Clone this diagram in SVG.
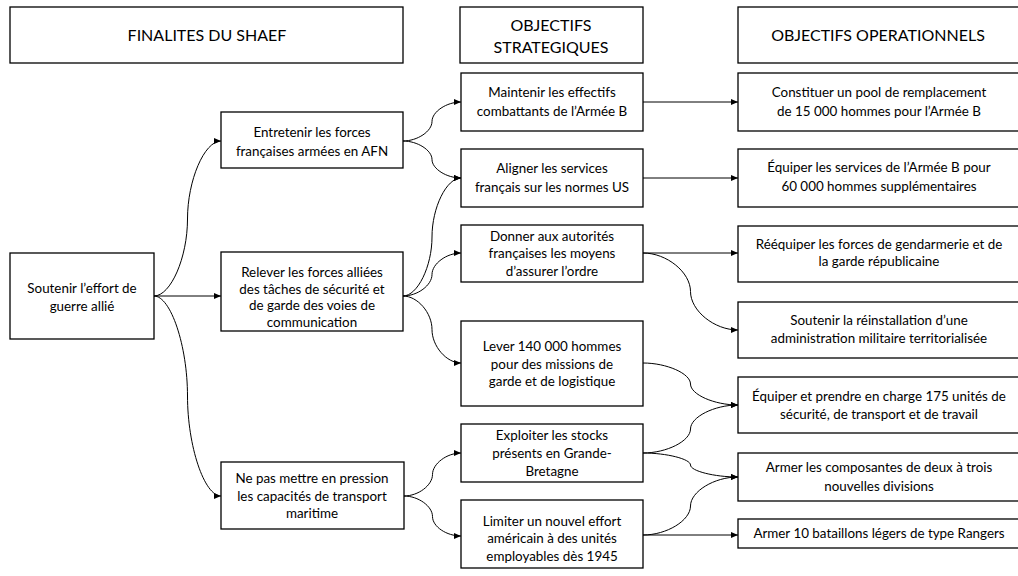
<svg xmlns="http://www.w3.org/2000/svg" width="1018" height="576" viewBox="0 0 1018 576">
<style>
.box{fill:#fff;stroke:#000;stroke-width:1.3}
.t{font-family:Lato,"Open Sans","Liberation Sans",sans-serif;font-size:13.4px;fill:#000;text-anchor:middle}
.h{font-family:Lato,"Open Sans","Liberation Sans",sans-serif;font-size:16px;fill:#000;text-anchor:middle}
.c{fill:none;stroke:#000;stroke-width:1}
</style>
<defs>
<marker id="arr" markerUnits="userSpaceOnUse" markerWidth="8" markerHeight="7" refX="7" refY="3.5" orient="auto">
<path d="M0,0.5 L7,3.5 L0,6.5 z" fill="#000"/>
</marker>
</defs>
<rect width="1018" height="576" fill="#fff"/>
<g id="connectors">
<path class="c" marker-end="url(#arr)" d="M154,296 L221,296"/>
<path class="c" marker-end="url(#arr)" d="M154,296 C170.75,296 187.5,257.5 187.5,219 C187.5,180.5 204.25,141 221,141"/>
<path class="c" marker-end="url(#arr)" d="M154,296 C170.75,296 187.5,346 187.5,396 C187.5,446 204.25,496 221,496"/>
<path class="c" marker-end="url(#arr)" d="M403,141 C417.5,141 432,131.25 432,121.5 C432,111.75 446.5,102 461,102"/>
<path class="c" marker-end="url(#arr)" d="M403,141 C417.5,141 432,150.25 432,159.5 C432,168.75 446.5,178 461,178"/>
<path class="c" marker-end="url(#arr)" d="M403,296 C417.5,296 432,266.5 432,237 C432,207.5 446.5,178 461,178"/>
<path class="c" marker-end="url(#arr)" d="M403,296 C417.5,296 432,285.25 432,274.5 C432,263.75 446.5,253 461,253"/>
<path class="c" marker-end="url(#arr)" d="M403,296 C417.5,296 432,312.75 432,329.5 C432,346.25 446.5,363 461,363"/>
<path class="c" marker-end="url(#arr)" d="M404,496 C418.25,496 432.5,485.25 432.5,474.5 C432.5,463.75 446.75,453 461,453"/>
<path class="c" marker-end="url(#arr)" d="M404,496 C418.25,496 432.5,506.25 432.5,516.5 C432.5,526.75 446.75,536 461,536"/>
<path class="c" marker-end="url(#arr)" d="M643,102 L738,102"/>
<path class="c" marker-end="url(#arr)" d="M643,178 L738,178"/>
<path class="c" marker-end="url(#arr)" d="M643,253 L738,253"/>
<path class="c" marker-end="url(#arr)" d="M643,253 C666.75,253 690.5,272.25 690.5,291.5 C690.5,310.75 714.25,330 738,330"/>
<path class="c" marker-end="url(#arr)" d="M643,363 C666.75,363 690.5,373.5 690.5,384 C690.5,394.5 714.25,405 738,405"/>
<path class="c" marker-end="url(#arr)" d="M643,453 C666.75,453 690.5,441 690.5,429 C690.5,417 714.25,405 738,405"/>
<path class="c" marker-end="url(#arr)" d="M643,453 C666.75,453 690.5,459 690.5,465 C690.5,471 714.25,477 738,477"/>
<path class="c" marker-end="url(#arr)" d="M643,535 C666.75,535 690.5,520.5 690.5,506 C690.5,491.5 714.25,477 738,477"/>
<path class="c" marker-end="url(#arr)" d="M643,535 L738,535"/>
</g>
<g id="h-finalites"><rect class="box" x="10" y="7" width="393" height="56"/><text class="h" x="207" y="41">FINALITES DU SHAEF</text></g>
<g id="h-strategiques"><rect class="box" x="460" y="7" width="183" height="56"/><text class="h" x="551" y="31">OBJECTIFS</text><text class="h" x="551" y="53">STRATEGIQUES</text></g>
<g id="h-operationnels"><rect class="box" x="738" y="7" width="284" height="56"/><text class="h" x="878" y="41">OBJECTIFS OPERATIONNELS</text></g>

<g id="n-soutenir"><rect class="box" x="10" y="253" width="144" height="86"/><text class="t" x="82" y="293">Soutenir l’effort de</text><text class="t" x="82" y="311">guerre allié</text></g>

<g id="n-entretenir"><rect class="box" x="221" y="112" width="182" height="56"/><text class="t" x="312" y="137">Entretenir les forces</text><text class="t" x="312" y="156">françaises armées en AFN</text></g>
<g id="n-relever"><rect class="box" x="221" y="252" width="182" height="79"/><text class="t" x="312" y="277">Relever les forces alliées</text><text class="t" x="312" y="294">des tâches de sécurité et</text><text class="t" x="312" y="310">de garde des voies de</text><text class="t" x="312" y="327">communication</text></g>
<g id="n-nepas"><rect class="box" x="221" y="462" width="183" height="67"/><text class="t" x="312" y="483">Ne pas mettre en pression</text><text class="t" x="312" y="501">les capacités de transport</text><text class="t" x="312" y="518">maritime</text></g>

<g id="s-maintenir"><rect class="box" x="461" y="73" width="182" height="58"/><text class="t" x="552" y="97">Maintenir les effectifs</text><text class="t" x="552" y="116">combattants de l’Armée B</text></g>
<g id="s-aligner"><rect class="box" x="461" y="149" width="182" height="58"/><text class="t" x="552" y="173">Aligner les services</text><text class="t" x="552" y="192">français sur les normes US</text></g>
<g id="s-donner"><rect class="box" x="461" y="225" width="182" height="57"/><text class="t" x="552" y="241">Donner aux autorités</text><text class="t" x="552" y="258">françaises les moyens</text><text class="t" x="552" y="276">d’assurer l’ordre</text></g>
<g id="s-lever"><rect class="box" x="461" y="321" width="182" height="85"/><text class="t" x="552" y="351">Lever 140 000 hommes</text><text class="t" x="552" y="369">pour des missions de</text><text class="t" x="552" y="386">garde et de logistique</text></g>
<g id="s-exploiter"><rect class="box" x="461" y="424" width="182" height="58"/><text class="t" x="552" y="440">Exploiter les stocks</text><text class="t" x="552" y="458">présents en Grande-</text><text class="t" x="552" y="476">Bretagne</text></g>
<g id="s-limiter"><rect class="box" x="461" y="500" width="182" height="68"/><text class="t" x="552" y="526">Limiter un nouvel effort</text><text class="t" x="552" y="543">américain à des unités</text><text class="t" x="552" y="561">employables dès 1945</text></g>

<g id="o-pool"><rect class="box" x="738" y="73" width="284" height="58"/><text class="t" x="879" y="97">Constituer un pool de remplacement</text><text class="t" x="879" y="116">de 15 000 hommes pour l’Armée B</text></g>
<g id="o-equiper-services"><rect class="box" x="738" y="149" width="284" height="58"/><text class="t" x="879" y="172">Équiper les services de l’Armée B pour</text><text class="t" x="879" y="191">60 000 hommes supplémentaires</text></g>
<g id="o-reequiper"><rect class="box" x="738" y="226" width="284" height="56"/><text class="t" x="879" y="249">Rééquiper  les forces de gendarmerie et de</text><text class="t" x="879" y="266">la garde républicaine</text></g>
<g id="o-administration"><rect class="box" x="738" y="302" width="284" height="56"/><text class="t" x="879" y="325">Soutenir la réinstallation d’une</text><text class="t" x="879" y="343">administration militaire territorialisée</text></g>
<g id="o-175"><rect class="box" x="738" y="377" width="284" height="56"/><text class="t" x="879" y="401">Équiper et prendre en charge 175 unités de</text><text class="t" x="879" y="419">sécurité, de transport et de travail</text></g>
<g id="o-divisions"><rect class="box" x="738" y="453" width="284" height="48"/><text class="t" x="879" y="472">Armer les composantes de deux à trois</text><text class="t" x="879" y="491">nouvelles divisions</text></g>
<g id="o-rangers"><rect class="box" x="738" y="519" width="284" height="29"/><text class="t" x="879" y="538">Armer 10 bataillons légers de type Rangers</text></g>
</svg>
